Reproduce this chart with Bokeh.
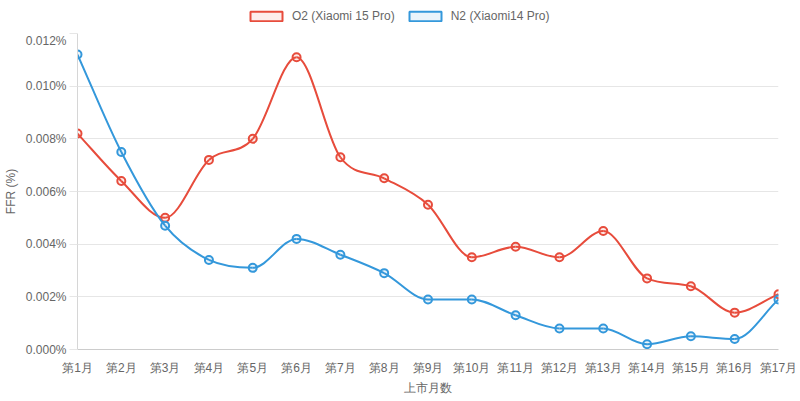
import numpy as np
from bokeh.plotting import figure
from bokeh.layouts import column
from bokeh.models import Range1d, FixedTicker, Legend, LegendItem, ColumnDataSource
from bokeh.embed import file_html
from bokeh.resources import INLINE

months = ["第1月", "第2月", "第3月", "第4月", "第5月", "第6月", "第7月", "第8月", "第9月",
          "第10月", "第11月", "第12月", "第13月", "第14月", "第15月", "第16月", "第17月"]
o2_values = [0.0082, 0.0064, 0.0050, 0.0072, 0.0080, 0.0111, 0.0073, 0.0065, 0.0055,
             0.0035, 0.0039, 0.0035, 0.0045, 0.0027, 0.0024, 0.0014, 0.0021]
n2_values = [0.0112, 0.0075, 0.0047, 0.0034, 0.0031, 0.0042, 0.0036, 0.0029, 0.0019,
             0.0019, 0.0013, 0.0008, 0.0008, 0.0002, 0.0005, 0.0004, 0.0019]
y_ticks = [0.0, 0.002, 0.004, 0.006, 0.008, 0.010, 0.012]
y_tick_labels = ["0.000%", "0.002%", "0.004%", "0.006%", "0.008%", "0.010%", "0.012%"]
series_names = ["O2 (Xiaomi 15 Pro)", "N2 (Xiaomi14 Pro)"]
series_colors = ["#e74c3c", "#3498db"]

FONT = "Liberation Sans"
TXT = "#666666"
GRID = "#e6e6e6"


def monotone_bezier(xs, ys):
    xs = np.asarray(xs, float)
    ys = np.asarray(ys, float)
    n = len(xs)
    d = np.diff(ys) / np.diff(xs)
    m = np.zeros(n)
    m[0] = d[0]
    m[-1] = d[-1]
    for i in range(1, n - 1):
        if d[i - 1] == 0 or d[i] == 0 or np.sign(d[i - 1]) != np.sign(d[i]):
            m[i] = 0.0
        else:
            m[i] = (d[i - 1] + d[i]) / 2
    for i in range(n - 1):
        if d[i] == 0:
            m[i] = 0
            m[i + 1] = 0
            continue
        a = m[i] / d[i]
        b = m[i + 1] / d[i]
        s = a * a + b * b
        if s > 9:
            t = 3 / np.sqrt(s)
            m[i] = a * t * d[i]
            m[i + 1] = b * t * d[i]
    dx = np.diff(xs) / 3
    return dict(x0=xs[:-1], y0=ys[:-1], x1=xs[1:], y1=ys[1:],
                cx0=xs[:-1] + dx, cy0=ys[:-1] + m[:-1] * dx,
                cx1=xs[1:] - dx, cy1=ys[1:] - m[1:] * dx)


TOP_H = 33
W, H = 800, 401

# legend strip
lf = figure(width=W, height=TOP_H, output_backend="svg", toolbar_location=None,
            x_range=Range1d(0, 1), y_range=Range1d(0, 1), min_border=0,
            x_axis_location=None, y_axis_location=None, title_location=None)
lf.grid.visible = False
lf.outline_line_color = None

# main chart
p = figure(width=W, height=H - TOP_H, output_backend="svg", toolbar_location=None,
           x_range=Range1d(0, len(months) - 1), y_range=Range1d(0, 0.012),
           title_location=None,
           min_border_left=77, min_border_right=22, min_border_top=0, min_border_bottom=52)
p.outline_line_color = None
p.background_fill_color = "white"

xs = list(range(len(months)))
items = []
for name, vals, col in zip(series_names, [o2_values, n2_values], series_colors):
    src = ColumnDataSource(monotone_bezier(xs, vals))
    p.bezier(x0="x0", y0="y0", x1="x1", y1="y1", cx0="cx0", cy0="cy0", cx1="cx1", cy1="cy1",
             source=src, line_color=col, line_width=2)
    p.scatter(xs, vals, size=8, line_color=col, line_width=2, fill_color=col, fill_alpha=0.1)
    sw = lf.quad(left=[np.nan], right=[np.nan], top=[np.nan], bottom=[np.nan],
                 fill_color=col, fill_alpha=0.1, line_color=col, line_width=2)
    items.append(LegendItem(label=name, renderers=[sw]))

legend = Legend(items=items, orientation="horizontal", location=(169, 10),
                glyph_width=40, glyph_height=12, label_standoff=6, spacing=10,
                padding=0, margin=0, border_line_color=None, background_fill_alpha=0,
                label_text_font=FONT, label_text_font_size="12px", label_text_color=TXT,
                label_height=12)
lf.add_layout(legend, "center")

p.xaxis.ticker = FixedTicker(ticks=xs)
p.xaxis.major_label_overrides = {i: m for i, m in enumerate(months)}
p.yaxis.ticker = FixedTicker(ticks=y_ticks)
p.yaxis.major_label_overrides = {t: l for t, l in zip(y_ticks, y_tick_labels)}

for ax in (p.xaxis, p.yaxis):
    ax.axis_line_color = "#d6d6d6"
    ax.major_tick_line_color = GRID
    ax.major_tick_out = 8
    ax.major_tick_in = 0
    ax.minor_tick_line_color = None
    ax.major_label_text_font = FONT
    ax.major_label_text_font_size = "12px"
    ax.major_label_text_color = TXT
    ax.axis_label_text_font = FONT
    ax.axis_label_text_font_size = "12px"
    ax.axis_label_text_color = TXT
    ax.axis_label_text_font_style = "normal"
    ax.major_label_standoff = 3

# no vertical grid and no visible x tick marks in the reference
p.xaxis.major_tick_line_color = None
p.xaxis.axis_line_color = "#cccccc"

p.xaxis.axis_label = "上市月数"
p.yaxis.axis_label = "FFR (%)"
p.xaxis.axis_label_standoff = 3
p.yaxis.axis_label_standoff = 5
p.xgrid.grid_line_color = None
p.ygrid.grid_line_color = GRID

layout = column(lf, p, spacing=0)
open("out.html", "w").write(file_html(layout, INLINE))
